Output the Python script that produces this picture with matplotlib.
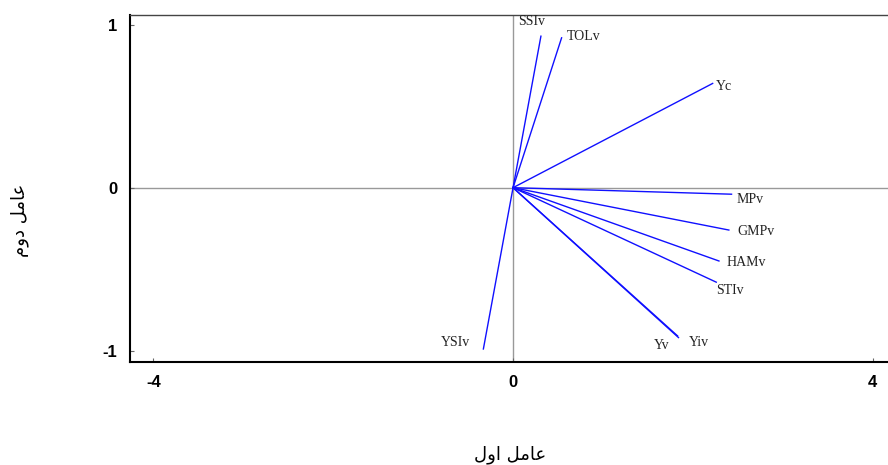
import numpy as np
import matplotlib
matplotlib.use('Agg')
import matplotlib.pyplot as plt

plt.rcParams['axes.unicode_minus'] = False

# vector end points (factor 1, factor 2)
names = ['SSIv', 'TOLv', 'Yc', 'MPv', 'GMPv', 'HAMv', 'STIv', 'Yv', 'Yiv', 'YSIv']
f1 = [0.31, 0.54, 2.22, 2.43, 2.40, 2.29, 2.26, 1.83, 1.84, -0.33]
f2 = [0.93, 0.92, 0.64, -0.04, -0.26, -0.45, -0.58, -0.91, -0.92, -0.99]

# label anchor points
lab_x = [0.06, 0.60, 2.26, 2.48, 2.49, 2.37, 2.26, 1.57, 1.95, -0.48]
lab_y = [1.02, 0.93, 0.62, -0.07, -0.27, -0.46, -0.63, -0.97, -0.95, -0.95]
lab_ha = ['left', 'left', 'left', 'left', 'left', 'left', 'left', 'left', 'left', 'right']

xticks = [-4, 0, 4]
yticks = [-1, 0, 1]

# persian axis titles, pre-shaped glyphs in visual order
xlab = '\ufedd\ufeed\ufe8d \ufede\ufee3\ufe8e\ufecb'   # عامل اول
ylab = '\ufee1\ufeed\ufea9 \ufede\ufee3\ufe8e\ufecb'   # عامل دوم

fig = plt.figure(figsize=(8.88, 4.65), dpi=100)
ax = fig.add_axes([130/888, 103/465, 758/888, 347/465])

ax.axhline(0, color='#999999', lw=1, zorder=1)
ax.axvline(0, color='#999999', lw=1, zorder=1)

for i in range(len(names)):
    ax.plot([0, f1[i]], [0, f2[i]], color='#1010ff', lw=1, zorder=2)
    ax.text(lab_x[i], lab_y[i], names[i], ha=lab_ha[i], va='center',
            fontsize=10, family='Liberation Serif', color='#222222')

ax.set_xlim(-4.26, 4.17)
ax.set_ylim(-1.07, 1.06)
ax.set_xticks(xticks)
ax.set_yticks(yticks)
ax.tick_params(direction='in', length=3, width=0.8, color='#666666', pad=9)
for lb in ax.get_xticklabels() + ax.get_yticklabels():
    lb.set_fontweight('bold')
    lb.set_fontsize(12)
    lb.set_family('Liberation Sans')

ax.spines['right'].set_visible(False)
ax.spines['top'].set_color('#444444')
ax.spines['top'].set_linewidth(1)
ax.spines['left'].set_linewidth(1.5)
ax.spines['bottom'].set_linewidth(1.5)

fig.text(510/888, 1 - 455/465, xlab, ha='center', va='center', fontsize=13, family='DejaVu Sans')
fig.text(20/888, 1 - 220/465, ylab, ha='center', va='center', fontsize=13, family='DejaVu Sans', rotation=90)

fig.savefig('out.png', dpi=100)
